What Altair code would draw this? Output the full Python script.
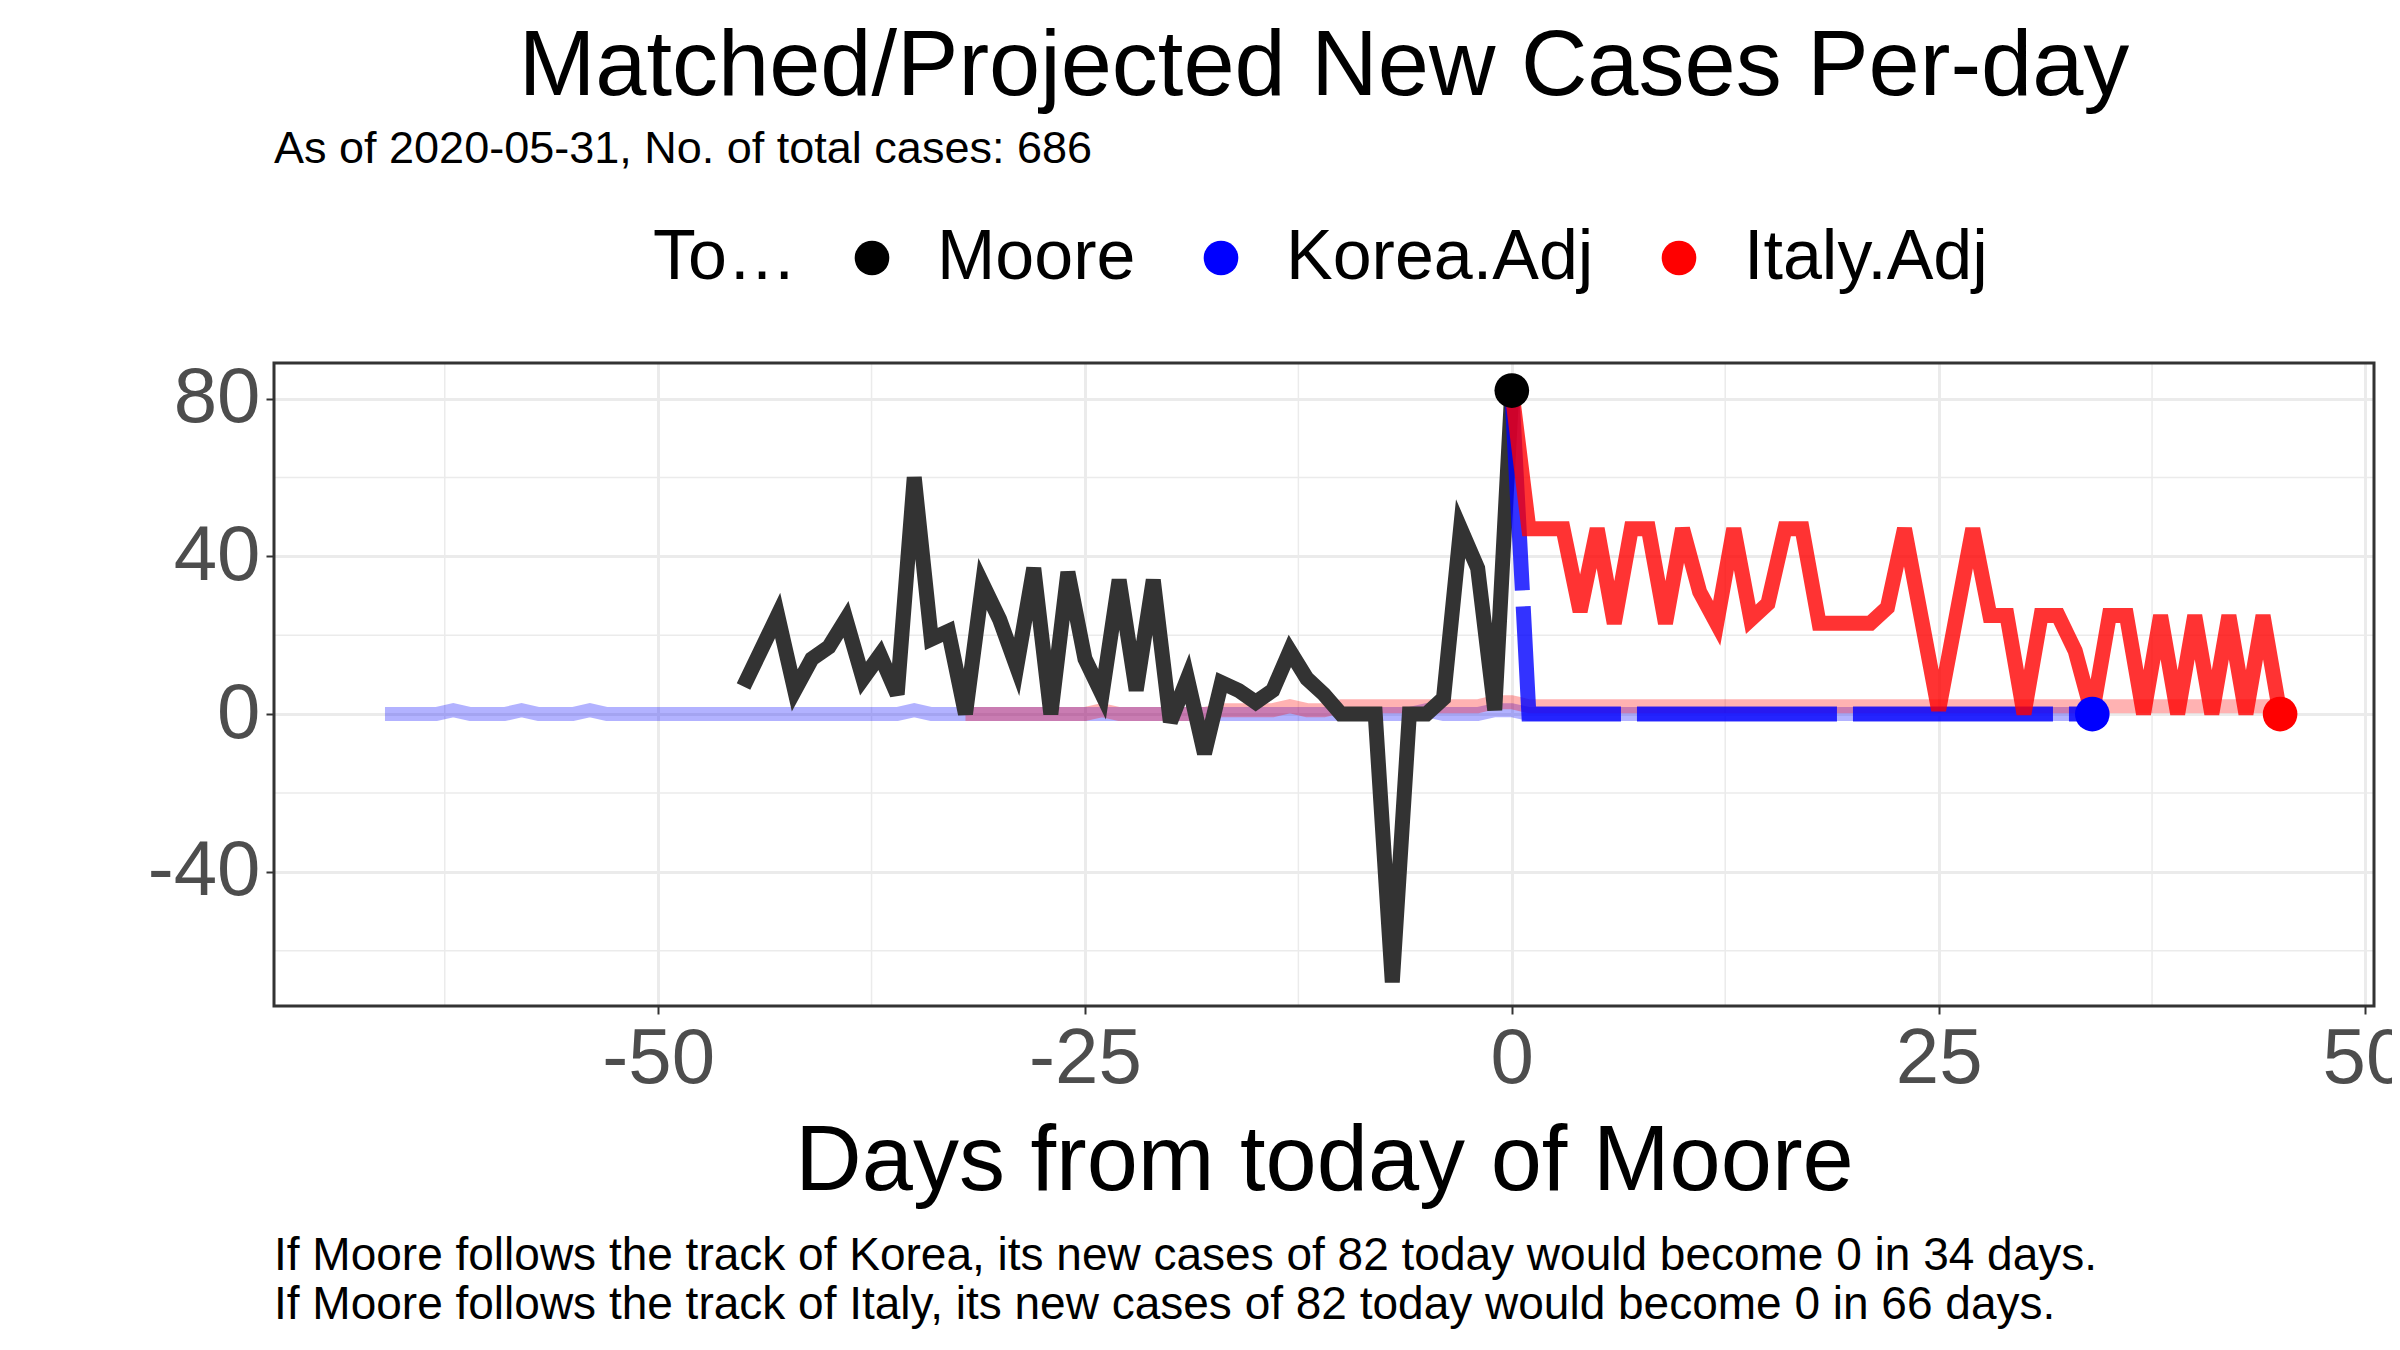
import pandas as pd
import altair as alt

# Moore observed new cases, day -45 .. 0
moore_days = list(range(-45, 1))
moore_vals = [7, 16, 25, 6, 14, 17, 24, 9, 15, 5, 60, 19, 21, 0, 33, 24, 12, 37, 0, 36,
              14, 5, 34, 6, 34, -2, 9, -10, 8, 6, 3, 6, 16, 9, 5, 0, 0, 0, -68, 0,
              0, 4, 47, 37, 1, 82]

# Korea-adjusted projection, day 0 .. 34
korea_days = list(range(0, 35))
korea_vals = [82] + [0] * 34

# Italy-adjusted projection, day 0 .. 45
italy_days = list(range(0, 46))
italy_vals = [82, 47, 47, 47, 26, 47, 23, 47, 47, 23, 47, 31, 23, 47, 24, 28, 47, 47, 23, 23,
              23, 23, 27, 47, 24, 1, 24, 47, 25, 25, 0, 25, 25, 16, 0, 25, 25, 0, 25, 0,
              25, 0, 25, 0, 25, 0]

# faint matched tracks
korea_hist_days = list(range(-66, 35))
korea_hist_vals = [0, 0, 0, 0, 1, 0, 0, 0, 1, 0, 0, 0, 1, 0, 0, 0, 0, 0, 0, 0,
                   0, 0, 0, 0, 0, 0, 0, 0, 0, 0, 0, 1, 0, 0, 0, 0, 0, 0, 0, 0,
                   0, 0, 0, 0, 0, 0, 0, 0, 0, 0, 0, 0, 0, 0, 0, 0, 0, 0, 0, 0,
                   0, 1, 0, 0, 0, 1, 1, 0, 0, 0, 0, 0, 0, 0, 0, 0, 0, 0, 0, 0,
                   0, 0, 0, 0, 0, 0, 0, 0, 0, 0, 0, 0, 0, 0, 0, 0, 0, 0, 0, 0, 0]
italy_hist_days = list(range(-32, 46))
italy_hist_vals = [0, 0, 0, 0, 0, 0, 0, 0, 1, 0, 0, 0, 0, 0, 0, 1, 1, 1, 1, 2,
                   1, 1, 2, 2, 2, 2, 2, 2, 2, 2, 2, 3, 3, 2, 2, 2, 2, 2, 2, 2,
                   2, 2, 2, 2, 2, 2, 2, 2, 2, 2, 2, 2, 2, 2, 2, 2, 2, 2, 2, 2,
                   2, 2, 2, 2, 2, 2, 2, 2, 2, 2, 2, 2, 2, 2, 2, 2, 2, 2]

today_names = ["Moore", "Korea.Adj", "Italy.Adj"]
today_days = [0, 34, 45]
today_vals = [82, 0, 0]

x_major = [-50, -25, 0, 25, 50]
y_major = [80, 40, 0, -40]
x_minor = [-62.5, -37.5, -12.5, 12.5, 37.5]
y_minor = [60, 20, -20, -60]

W, H = 2100, 643
FONT = "Liberation Sans"
MINUS = "replace(datum.label, '\u2212', '-')"

xs = alt.Scale(domain=[-72.5, 50.5], nice=False, zero=False)
ys = alt.Scale(domain=[-74, 89], nice=False, zero=False)


def line_df(days, vals):
    return pd.DataFrame({"day": days, "value": vals})


def line(df, color, width, opacity, dash=None):
    kw = dict(color=color, strokeWidth=width, opacity=opacity, strokeJoin="miter")
    if dash:
        kw["strokeDash"] = dash
    return alt.Chart(df).mark_line(**kw).encode(
        x=alt.X("day:Q", scale=xs), y=alt.Y("value:Q", scale=ys))


minor_x = alt.Chart(pd.DataFrame({"v": x_minor})).mark_rule(color="#EBEBEB", strokeWidth=1.5).encode(
    x=alt.X("v:Q", scale=xs))
minor_y = alt.Chart(pd.DataFrame({"v": y_minor})).mark_rule(color="#EBEBEB", strokeWidth=1.5).encode(
    y=alt.Y("v:Q", scale=ys))

base_axes = alt.Chart(pd.DataFrame({"day": [0], "value": [0]})).mark_point(opacity=0).encode(
    x=alt.X("day:Q", scale=xs, title="Days from today of Moore",
            axis=alt.Axis(values=x_major, gridColor="#EBEBEB", gridWidth=3, labelFontSize=78,
                          labelColor="#4D4D4D", titleFontSize=92, titleFontWeight="normal",
                          titleColor="black", tickColor="#333333", tickSize=8, tickWidth=2,
                          domain=False, labelPadding=6, titlePadding=18, labelFont=FONT,
                          titleFont=FONT, labelFlush=False, labelExpr=MINUS)),
    y=alt.Y("value:Q", scale=ys, title=None,
            axis=alt.Axis(values=y_major, gridColor="#EBEBEB", gridWidth=3, labelFontSize=78,
                          labelColor="#4D4D4D", tickColor="#333333", tickSize=8, tickWidth=2,
                          domain=False, labelPadding=6, labelFont=FONT, labelExpr=MINUS)))

# panel border
border = alt.Chart(pd.DataFrame({"v": [0]})).mark_rect(
    fill=None, stroke="#333333", strokeWidth=3).encode(
    x=alt.value(0), x2=alt.value(W), y=alt.value(0), y2=alt.value(H))

layers = [
    minor_x, minor_y, base_axes,
    line(line_df(korea_hist_days, korea_hist_vals), "#0000FF", 14, 0.3),
    line(line_df(italy_hist_days, italy_hist_vals), "#FF0000", 14, 0.3),
    line(line_df(moore_days, moore_vals), "#333333", 15, 1),
    line(line_df(korea_days, korea_vals), "#0000FF", 15, 0.8, [200, 16]),
    line(line_df(italy_days, italy_vals), "#FF0000", 15, 0.8),
    border,
]

points = alt.Chart(pd.DataFrame({"name": today_names, "day": today_days, "value": today_vals})).mark_circle(
    size=1200, opacity=1).encode(
    x=alt.X("day:Q", scale=xs), y=alt.Y("value:Q", scale=ys),
    color=alt.Color("name:N", sort=today_names,
                    scale=alt.Scale(domain=today_names, range=["black", "#0000FF", "#FF0000"]),
                    legend=alt.Legend(title="Today", orient="none", legendX=379, legendY=-140,
                                      direction="horizontal", titleOrient="left",
                                      titleFontSize=70, titleFontWeight="normal", titleFont=FONT,
                                      titleColor="black", labelFontSize=70, labelFont=FONT,
                                      labelColor="black", symbolSize=1200, symbolType="circle",
                                      columnPadding=50, labelOffset=30, titlePadding=40,
                                      symbolStrokeWidth=0, labelLimit=0)))
layers.append(points)

texts = [
    ("Matched/Projected New Cases Per-day", W / 2, -268, 92, "center"),
    ("As of 2020-05-31, No. of total cases: 686", 0, -200, 45, "left"),
    ("If Moore follows the track of Korea, its new cases of 82 today would become 0 in 34 days.", 0, 907, 46, "left"),
    ("If Moore follows the track of Italy, its new cases of 82 today would become 0 in 66 days.", 0, 956, 46, "left"),
]
for t, tx, ty, fs, al in texts:
    layers.append(alt.Chart(pd.DataFrame({"t": [t]})).mark_text(
        fontSize=fs, align=al, baseline="alphabetic", font=FONT, color="black").encode(
        text="t:N", x=alt.value(tx), y=alt.value(ty)))

chart = alt.layer(*layers).properties(
    width=W, height=H,
    autosize=alt.AutoSizeParams(type="none"),
    padding={"left": 266, "top": 355, "right": 18, "bottom": 330},
).configure_view(stroke=None).configure(background="white")

chart.save("out.html", embed_options={"renderer": "svg", "actions": False})
